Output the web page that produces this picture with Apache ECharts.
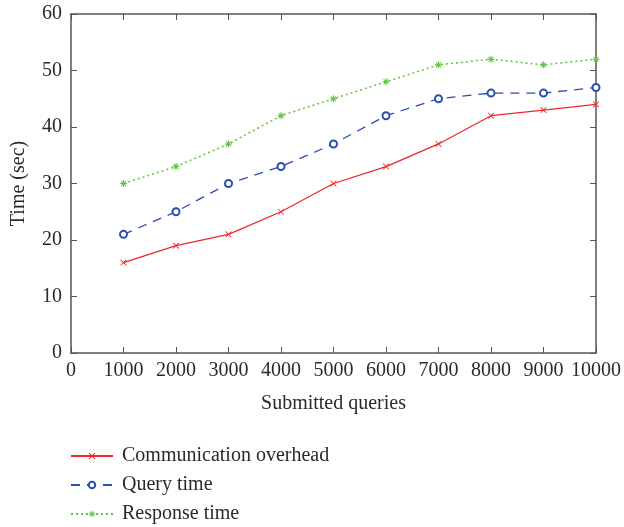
<!DOCTYPE html>
<html><head><meta charset="utf-8">
<script src="https://cdn.jsdelivr.net/npm/echarts@6/dist/echarts.min.js"></script>
<style>html,body{margin:0;padding:0;background:#fff}#c{width:624px;height:527px}</style>
</head><body><div id="c"></div>
<script>
var xValues = [1000,2000,3000,4000,5000,6000,7000,8000,9000,10000];
var commOverhead = [16,19,21,25,30,33,37,42,43,44];
var queryTime = [21,25,30,33,37,42,45,46,46,47];
var responseTime = [30,33,37,42,45,48,51,52,51,52];
var seriesNames = ['Communication overhead','Query time','Response time'];

function pairs(v){ return xValues.map(function(x,i){return [x,v[i]];}); }
var font = 'Liberation Serif';
var fs = 20;
var axisCol = '#555';
var txt = '#2a2a2a';
var chart = echarts.init(document.getElementById('c'));
var xMark = 'path://M0,0L1,0L5,4L9,0L10,0L10,1L6,5L10,9L10,10L9,10L5,6L1,10L0,10L0,9L4,5L0,1Z';
var starMark = 'path://M4.3,0H5.7V3.3L8.0,1L9,2L6.7,4.3H10V5.7H6.7L9,8L8,9L5.7,6.7V10H4.3V6.7L2,9L1,8L3.3,5.7H0V4.3H3.3L1,2L2,1L4.3,3.3Z';
chart.setOption({
  animation:false,
  grid:{left:71,right:25,top:14,bottom:174},
  xAxis:[{type:'value',min:0,max:10000,interval:1000,
    name:'Submitted queries',nameLocation:'middle',nameGap:41,
    nameTextStyle:{fontFamily:font,fontSize:fs,color:txt},
    axisLine:{onZero:false,lineStyle:{color:axisCol,width:1.5}},
    axisTick:{inside:true,length:6,lineStyle:{color:axisCol}},
    axisLabel:{fontFamily:font,fontSize:fs,color:txt,margin:8,formatter:function(v){return String(v);}},
    splitLine:{show:false}},
   {type:'value',position:'top',min:0,max:10000,interval:1000,
    axisLine:{onZero:false,lineStyle:{color:axisCol,width:1.5}},
    axisTick:{inside:true,length:6,lineStyle:{color:axisCol}},
    axisLabel:{show:false},splitLine:{show:false}}],
  yAxis:[{type:'value',min:0,max:60,interval:10,
    name:'Time (sec)',nameLocation:'middle',nameGap:42,nameRotate:90,
    nameTextStyle:{fontFamily:font,fontSize:fs,color:txt},
    axisLine:{show:true,onZero:false,lineStyle:{color:axisCol,width:1.5}},
    axisTick:{show:true,inside:true,length:6,lineStyle:{color:axisCol}},
    axisLabel:{fontFamily:font,fontSize:fs,color:txt,margin:9},
    splitLine:{show:false}},
   {type:'value',position:'right',min:0,max:60,interval:10,
    axisLine:{show:true,onZero:false,lineStyle:{color:axisCol,width:1.5}},
    axisTick:{show:true,inside:true,length:6,lineStyle:{color:axisCol}},
    axisLabel:{show:false},splitLine:{show:false}}],
  legend:{orient:'vertical',left:70,top:446,height:90,itemWidth:42,itemHeight:8,itemGap:9,
    padding:0,textStyle:{fontFamily:font,fontSize:fs,color:txt,padding:[0,0,0,4]},
    data:seriesNames},
  series:[
    {name:seriesNames[0],type:'line',data:pairs(commOverhead),symbol:xMark,symbolSize:6,
     lineStyle:{color:'#f0262b',width:1.3},itemStyle:{color:'#f0262b'}},
    {name:seriesNames[1],type:'line',data:pairs(queryTime),symbol:'emptyCircle',symbolSize:7,
     lineStyle:{color:'#2b4fb0',width:1.3,type:[9,7]},itemStyle:{color:'#2b4fb0',borderWidth:1.3}},
    {name:seriesNames[2],type:'line',data:pairs(responseTime),symbol:starMark,symbolSize:7,
     lineStyle:{color:'#5fc53a',width:1.5,type:[2,3]},itemStyle:{color:'#5fc53a'}}
  ]
});
</script></body></html>
